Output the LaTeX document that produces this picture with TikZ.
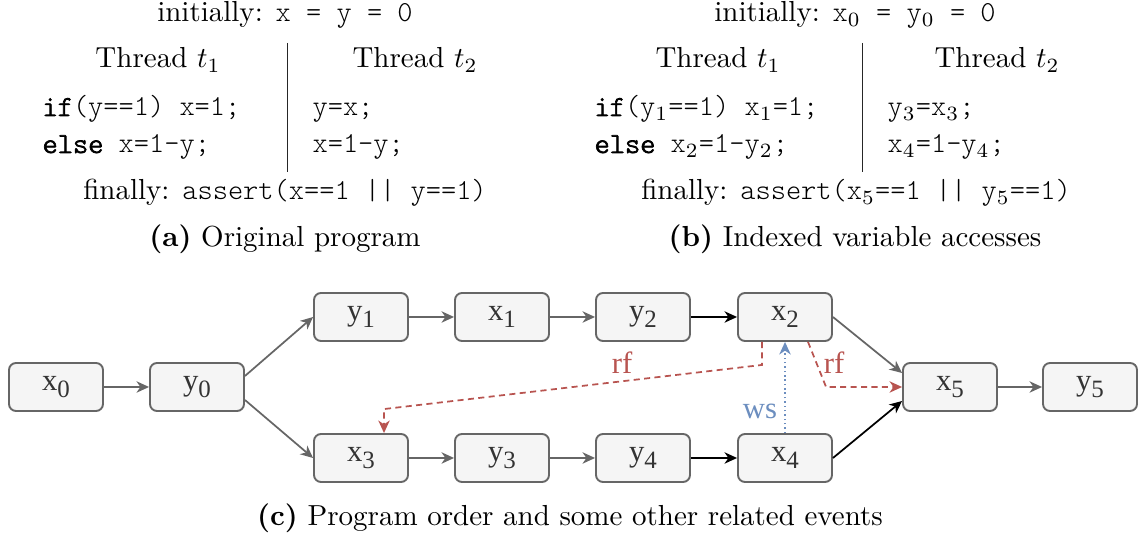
\documentclass[tikz,border=0pt]{standalone}
\usepackage{fontspec}
\setmonofont{Latin Modern Mono Light}[BoldFont={Latin Modern Mono Light}, BoldFeatures={FakeBold=2.5}]
\usetikzlibrary{arrows.meta,calc}
\newfontfamily\evfont{Liberation Serif}
\definecolor{edgegray}{HTML}{666666}
\definecolor{boxfill}{HTML}{F5F5F5}
\definecolor{evtext}{HTML}{333333}
\definecolor{rfred}{HTML}{B85450}
\definecolor{wsblue}{HTML}{6C8EBF}
% event label: variable with a lowered index
\newcommand\ev[2]{#1\raisebox{-2.6pt}{\fontsize{8.6}{9}\selectfont #2}}
\tikzset{
  event/.style={draw=edgegray, fill=boxfill, line width=0.65pt, rounded corners=2.4pt,
    minimum width=94*0.345pt, minimum height=48*0.345pt, inner sep=0pt, text=evtext,
    font=\evfont\fontsize{10.6}{12}\selectfont},
  tip/.style={-{Stealth[length=4.3pt,width=3.9pt,inset=1.3pt]}},
  po/.style={tip, draw=edgegray, line width=0.6pt},
  pob/.style={tip, draw=black, line width=0.6pt},
  rf/.style={tip, draw=rfred, line width=0.6pt, dash pattern=on 2.1pt off 1.5pt},
  ws/.style={tip, draw=wsblue, line width=0.6pt, dash pattern=on 0.5pt off 1pt},
  rflabel/.style={text=rfred, font=\evfont\fontsize{10.6}{12}\selectfont, inner sep=0pt},
  wslabel/.style={text=wsblue, font=\evfont\fontsize{10.6}{12}\selectfont, inner sep=0pt},
  txt/.style={inner sep=0pt, font=\fontsize{10}{12}\selectfont},
  sep/.style={draw=black!85, line width=0.3pt},
}
\begin{document}
\begin{tikzpicture}[x=0.345pt, y=-0.345pt]
\useasboundingbox (0,0) rectangle (1140,537);

% ---- (a) original program
\node[txt, anchor=base] (ainit) at (285,22) {initially: \texttt{x = y = 0}};
\node[txt, anchor=base] (at1) at (158,68) {Thread $t_1$};
\node[txt, anchor=base] (at2) at (415,68) {Thread $t_2$};
\coordinate (asepT) at (287,43);
\coordinate (asepB) at (287,172);
\draw[sep] (asepT) -- (asepB);
\node[txt, anchor=base west] (al1) at (42,116) {\texttt{\textbf{if}(y==1) x=1;}};
\node[txt, anchor=base west] (al2) at (42,153) {\texttt{\textbf{else} x=1-y;}};
\node[txt, anchor=base west] (ar1) at (312,116) {\texttt{y=x;}};
\node[txt, anchor=base west] (ar2) at (312,153) {\texttt{x=1-y;}};
\node[txt, anchor=base] (afin) at (285,200) {finally: \texttt{assert(x==1 || y==1)}};
\node[txt, anchor=base] (acap) at (285,247) {\textbf{(a)} Original program};

% ---- (b) indexed variable accesses
\node[txt, anchor=base] (binit) at (855,22) {initially: \texttt{x$_0$ = y$_0$ = 0}};
\node[txt, anchor=base] (bt1) at (718,68) {Thread $t_1$};
\node[txt, anchor=base] (bt2) at (997,68) {Thread $t_2$};
\coordinate (bsepT) at (862,43);
\coordinate (bsepB) at (862,172);
\draw[sep] (bsepT) -- (bsepB);
\node[txt, anchor=base west] (bl1) at (594,116) {\texttt{\textbf{if}(y$_1$==1) x$_1$=1;}};
\node[txt, anchor=base west] (bl2) at (594,153) {\texttt{\textbf{else} x$_2$=1-y$_2$;}};
\node[txt, anchor=base west] (br1) at (887,116) {\texttt{y$_3$=x$_3$;}};
\node[txt, anchor=base west] (br2) at (887,153) {\texttt{x$_4$=1-y$_4$;}};
\node[txt, anchor=base] (bfin) at (856,200) {finally: \texttt{assert(x$_5$==1 || y$_5$==1)}};
\node[txt, anchor=base] (bcap) at (855,247) {\textbf{(b)} Indexed variable accesses};

% ---- (c) event graph
\node[event] (x0) at (56,387)  {\ev{x}{0}};
\node[event] (y0) at (197,387) {\ev{y}{0}};
\node[event] (y1) at (361,317) {\ev{y}{1}};
\node[event] (x1) at (502,317) {\ev{x}{1}};
\node[event] (y2) at (643,317) {\ev{y}{2}};
\node[event] (x2) at (785,317) {\ev{x}{2}};
\node[event] (x3) at (361,458) {\ev{x}{3}};
\node[event] (y3) at (502,458) {\ev{y}{3}};
\node[event] (y4) at (643,458) {\ev{y}{4}};
\node[event] (x4) at (785,458) {\ev{x}{4}};
\node[event] (x5) at (950,387) {\ev{x}{5}};
\node[event] (y5) at (1090,387) {\ev{y}{5}};

% program order
\draw[po] (x0) -- (y0);
\draw[po] ($(y0.east)+(0,-11)$) -- (y1.west);
\draw[po] ($(y0.east)+(0,13)$) -- (x3.west);
\draw[po] (y1) -- (x1);
\draw[po] (x1) -- (y2);
\draw[pob] (y2) -- (x2);
\draw[po] (x3) -- (y3);
\draw[po] (y3) -- (y4);
\draw[pob] (y4) -- (x4);
\draw[po] (x2.east) -- ($(x5.west)+(0,-14)$);
\draw[pob] (x4.east) -- ($(x5.west)+(0,14)$);
\draw[po] (x5) -- (y5);

% reads-from
\draw[rf] ($(x2.south)+(-23,0)$) -- ++(0,23) -- ($(x3.north)+(23,-24)$) -- ($(x3.north)+(23,0)$);
\draw[rf] ($(x2.south)+(23,0)$) -- ($(x5.west)+(-76,0)$) -- (x5.west);
\node[rflabel] (rfa) at (622,363) {rf};
\node[rflabel] (rfb) at (834,363) {rf};

% write serialization
\draw[ws] (x4.north) -- (x2.south);
\node[wslabel] (wsl) at (760,411) {ws};

\node[txt, anchor=base] (ccap) at (570,526) {\textbf{(c)} Program order and some other related events};
\end{tikzpicture}
\end{document}
